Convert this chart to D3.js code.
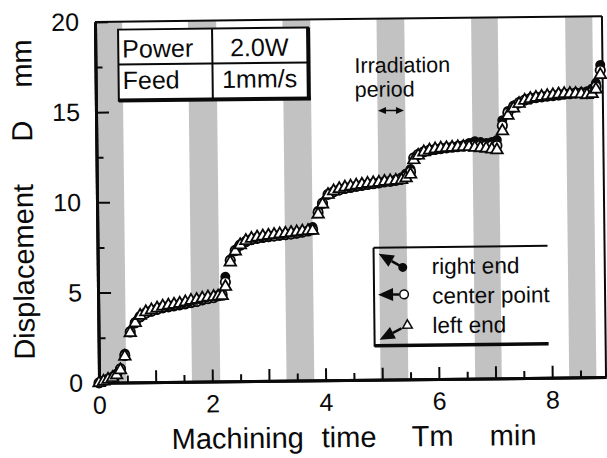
<!DOCTYPE html>
<html><head><meta charset="utf-8">
<script src="https://cdn.jsdelivr.net/npm/d3@7"></script>
<style>
html,body{margin:0;padding:0;background:#fff;}
svg{display:block;font-family:"Liberation Sans",Arial,sans-serif;}
</style></head>
<body>
<svg id="chart" width="607" height="458"></svg>
<script>
// ---- data ----
const time = [0,0.08,0.16,0.24,0.31,0.38,0.46,0.56,0.65,0.74,0.84,0.94,1.04,1.14,1.24,1.34,1.44,1.54,1.64,1.74,1.84,1.94,2.04,2.12,2.19,
  2.25,2.34,2.43,2.52,2.62,2.72,2.82,2.92,3.02,3.12,3.22,3.32,3.42,3.52,3.62,3.72,3.80,
  3.90,3.98,4.08,4.18,4.28,4.38,4.48,4.58,4.68,4.78,4.88,4.98,5.08,5.18,5.28,5.38,5.46,5.54,
  5.60,5.68,5.78,5.88,5.98,6.08,6.18,6.28,6.38,6.48,6.58,6.68,6.78,6.88,6.98,7.07,
  7.17,7.27,7.37,7.47,7.57,7.67,7.77,7.87,7.97,8.07,8.17,8.27,8.37,8.47,8.57,8.67,8.76,8.83,8.91];
const rightEnd = [0,0.12,0.22,0.33,0.5,0.8,1.6,2.85,3.35,3.6,3.8,3.9,4.0,4.08,4.13,4.18,4.23,4.28,4.35,4.42,4.5,4.58,4.65,4.78,4.85,
  5.8,6.75,7.2,7.5,7.7,7.8,7.87,7.92,7.96,8.0,8.03,8.06,8.1,8.15,8.22,8.3,8.5,
  9.4,9.85,10.3,10.42,10.5,10.58,10.64,10.7,10.75,10.8,10.85,10.9,10.95,11.0,11.08,11.2,11.4,11.65,
  12.3,12.48,12.6,12.66,12.7,12.75,12.8,12.85,12.9,12.95,13.05,13.15,13.1,13.05,13.1,13.2,
  14.3,14.8,15.1,15.3,15.42,15.5,15.55,15.58,15.6,15.62,15.65,15.7,15.74,15.78,15.8,15.85,16.0,16.3,17.3];
const centerPoint = [0,0.1,0.2,0.3,0.45,0.75,1.5,2.8,3.3,3.65,3.85,3.95,4.05,4.15,4.2,4.25,4.3,4.35,4.4,4.45,4.55,4.6,4.65,4.75,4.8,
  5.5,6.7,7.25,7.55,7.75,7.85,7.92,7.96,8.0,8.03,8.07,8.1,8.13,8.17,8.22,8.28,8.35,
  9.3,9.8,10.3,10.45,10.55,10.62,10.68,10.73,10.78,10.82,10.86,10.9,10.95,10.98,11.03,11.1,11.25,11.5,
  12.25,12.45,12.6,12.68,12.72,12.76,12.8,12.83,12.86,12.88,12.9,12.92,12.92,12.9,12.9,12.9,
  14.0,14.7,15.0,15.25,15.4,15.48,15.53,15.57,15.6,15.63,15.66,15.7,15.72,15.75,15.75,15.72,15.8,16.1,17.0];
const leftEnd = [0,0.08,0.18,0.28,0.42,0.7,1.45,2.75,3.3,3.7,3.9,4.0,4.1,4.2,4.25,4.3,4.35,4.42,4.5,4.55,4.62,4.68,4.7,4.72,4.75,
  5.25,6.6,7.2,7.55,7.78,7.9,7.97,8.02,8.06,8.1,8.13,8.16,8.2,8.23,8.27,8.3,8.3,
  9.2,9.75,10.28,10.48,10.6,10.68,10.73,10.78,10.83,10.87,10.9,10.93,10.97,11.0,11.02,11.05,11.15,11.35,
  12.15,12.4,12.58,12.68,12.74,12.78,12.8,12.82,12.84,12.85,12.85,12.8,12.78,12.75,12.7,12.65,
  13.7,14.55,14.95,15.2,15.38,15.47,15.53,15.58,15.62,15.66,15.7,15.72,15.72,15.72,15.7,15.65,15.7,15.95,16.75];
const bandStart = [0, 1.64, 3.31, 4.97, 6.64, 8.30];
const bandEnd   = [0.48, 2.14, 3.80, 5.46, 7.11, 8.78];
const xMajorTicks = [0,1,2,3,4,5,6,7,8];
const xMinorTicks = [0.5,1.5,2.5,3.5,4.5,5.5,6.5,7.5,8.5];
const xTickLabels = [0,2,4,6,8];
const yMajorTicks = [0,5,10,15,20];
const yMinorTicks = [2.5,7.5,12.5,17.5];
const legendLabels = ["right end","center point","left end"];
const tableRows = [["Power","2.0W"],["Feed","1mm/s"]];

// ---- layout ----
const svg = d3.select("#chart");
const root = svg.append("g").attr("transform","rotate(-0.65,350,200)");
const L=97, R=604, T=19, B=380;
const x = d3.scaleLinear().domain([0,8.95]).range([L,R]);
const y = d3.scaleLinear().domain([0,20]).range([B,T]);
const ink = "#0a0a0a";

// bands
root.append("g").selectAll("rect").data(d3.range(bandStart.length)).join("rect")
  .attr("x", i=>x(bandStart[i])).attr("width", i=>x(bandEnd[i])-x(bandStart[i]))
  .attr("y", T).attr("height", B-T).attr("fill","#c2c2c2");

// frame top/right
root.append("line").attr("x1",L).attr("x2",R).attr("y1",T).attr("y2",T).attr("stroke",ink).attr("stroke-width",2);
root.append("line").attr("x1",R).attr("x2",R).attr("y1",T).attr("y2",B).attr("stroke",ink).attr("stroke-width",2);

// axes
function styleAxis(g){
  g.selectAll(".domain").attr("stroke",ink).attr("stroke-width",3);
  g.selectAll(".tick line").attr("stroke",ink).attr("stroke-width",2);
  g.selectAll("text").attr("fill",ink).attr("font-size",25).attr("font-family","Liberation Sans, Arial, sans-serif");
}
root.append("g").attr("transform",`translate(0,${B})`)
  .call(d3.axisBottom(x).tickValues(xMinorTicks).tickSizeInner(-7).tickSizeOuter(0).tickFormat(""))
  .call(styleAxis);
root.append("g").attr("transform",`translate(0,${B})`)
  .call(d3.axisBottom(x).tickValues(xMajorTicks).tickSizeInner(-12).tickSizeOuter(0).tickPadding(13)
    .tickFormat(d=> xTickLabels.includes(d)? String(d):""))
  .call(styleAxis);
root.append("g").attr("transform",`translate(0,0)`).attr("transform",`translate(${L},0)`)
  .call(d3.axisLeft(y).tickValues(yMinorTicks).tickSizeInner(-7).tickSizeOuter(0).tickFormat(""))
  .call(styleAxis);
root.append("g").attr("transform",`translate(${L},0)`)
  .call(d3.axisLeft(y).tickValues(yMajorTicks).tickSizeInner(-13).tickSizeOuter(0).tickPadding(16).tickFormat(d3.format("d")))
  .call(styleAxis);

// data markers
const idx = d3.range(time.length);
const tri = d3.symbol().type(d3.symbolTriangle).size(58);
root.append("g").selectAll("circle").data(idx).join("circle")
  .attr("cx",i=>x(time[i])).attr("cy",i=>y(rightEnd[i])).attr("r",5).attr("fill",ink);
root.append("g").selectAll("circle").data(idx).join("circle")
  .attr("cx",i=>x(time[i])).attr("cy",i=>y(centerPoint[i])).attr("r",4.7)
  .attr("fill","#fff").attr("stroke",ink).attr("stroke-width",1.8);
root.append("g").selectAll("path").data(idx).join("path")
  .attr("transform",i=>`translate(${x(time[i])},${y(leftEnd[i])})`).attr("d",tri)
  .attr("fill","#fff").attr("stroke",ink).attr("stroke-width",1.8);

// axis titles
const tfont = 29;
function txt(s,xx,yy,size,anchor){
  return root.append("text").attr("x",xx).attr("y",yy).attr("font-size",size).attr("fill",ink)
    .attr("text-anchor",anchor||"start").text(s);
}
txt("Machining",169,447,tfont);
txt("time",319,447,tfont);
txt("Tm",409,447,tfont);
txt("min",487,447,tfont);
[["Displacement",356],["D",138],["mm",84]].forEach(([s,yy])=>{
  root.append("text").attr("transform",`translate(33,${yy}) rotate(-90)`).attr("font-size",tfont)
    .attr("fill",ink).text(s);
});

// parameter table
const tb = root.append("g");
tb.append("rect").attr("x",120).attr("y",27).attr("width",190).attr("height",71).attr("fill","#fff").attr("stroke",ink).attr("stroke-width",2);
tb.append("line").attr("x1",310).attr("x2",310).attr("y1",27).attr("y2",99).attr("stroke",ink).attr("stroke-width",4);
tb.append("line").attr("x1",120).attr("x2",312).attr("y1",98).attr("y2",98).attr("stroke",ink).attr("stroke-width",4);
tb.append("line").attr("x1",120).attr("x2",310).attr("y1",62).attr("y2",62).attr("stroke",ink).attr("stroke-width",2);
tb.append("line").attr("x1",214).attr("x2",214).attr("y1",27).attr("y2",98).attr("stroke",ink).attr("stroke-width",2);
tableRows.forEach((r,i)=>{
  txt(r[0],124,55+i*31.5,25);
  txt(r[1],261,55+i*31.5,25,"middle");
});

// irradiation period annotation
txt("Irradiation",356,73,21.5);
txt("period",356,97,21.5);
const ay=111, ax1=379, ax2=405;
root.append("line").attr("x1",ax1+5).attr("x2",ax2-5).attr("y1",ay).attr("y2",ay).attr("stroke",ink).attr("stroke-width",1.5);
root.append("path").attr("d",`M${ax1},${ay}L${ax1+8},${ay-3.5}L${ax1+8},${ay+3.5}Z M${ax2},${ay}L${ax2-8},${ay-3.5}L${ax2-8},${ay+3.5}Z`).attr("fill",ink);

// legend
const lg = root.append("g");
lg.append("line").attr("x1",373).attr("x2",373).attr("y1",248).attr("y2",347).attr("stroke",ink).attr("stroke-width",2);
lg.append("line").attr("x1",373).attr("x2",547).attr("y1",248).attr("y2",248).attr("stroke",ink).attr("stroke-width",2);
lg.append("line").attr("x1",373).attr("x2",547).attr("y1",346).attr("y2",346).attr("stroke",ink).attr("stroke-width",3.5);
function arrow(fx,fy,tx,ty){
  const dx=tx-fx, dy=ty-fy, len=Math.hypot(dx,dy), ux=dx/len, uy=dy/len;
  const hl=15, hw=6.5;
  const bx=tx-ux*hl, by=ty-uy*hl;
  lg.append("line").attr("x1",fx).attr("y1",fy).attr("x2",bx).attr("y2",by).attr("stroke",ink).attr("stroke-width",2.5);
  lg.append("path").attr("d",`M${tx},${ty}L${bx-uy*hw},${by+ux*hw}L${bx+uy*hw},${by-ux*hw}Z`).attr("fill",ink);
}
arrow(402,268,378,254);
lg.append("circle").attr("cx",402).attr("cy",268).attr("r",4.5).attr("fill",ink);
arrow(398,295,377,295);
lg.append("circle").attr("cx",403).attr("cy",295).attr("r",4.3).attr("fill","#fff").attr("stroke",ink).attr("stroke-width",1.5);
arrow(400,329,378,340);
lg.append("path").attr("transform","translate(406,326)").attr("d",d3.symbol().type(d3.symbolTriangle).size(40)).attr("fill","#fff").attr("stroke",ink).attr("stroke-width",1.5);
legendLabels.forEach((s,i)=>{
  lg.append("text").attr("x",431).attr("y",275+i*29.5).attr("font-size",22.5).attr("fill",ink).text(s);
});
</script>
</body></html>
